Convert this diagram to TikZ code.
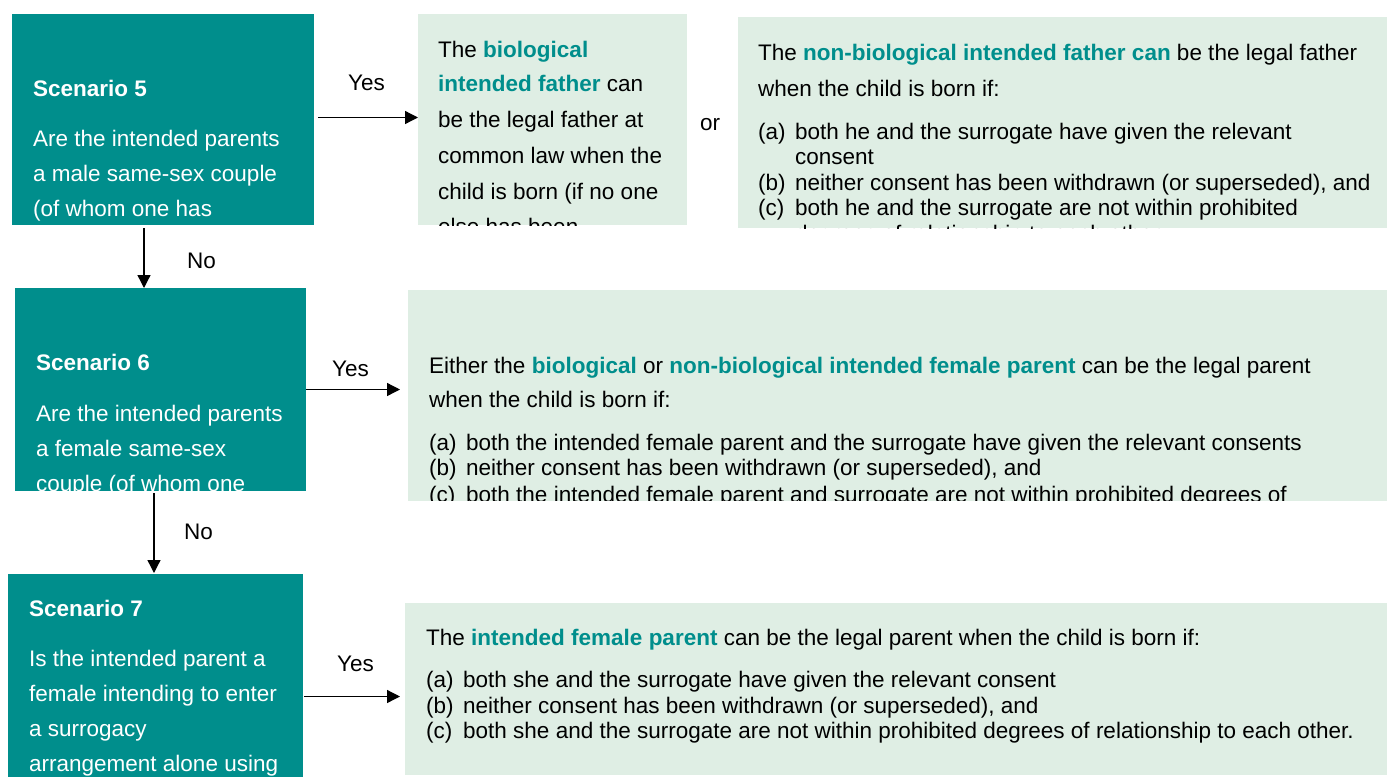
\documentclass[tikz,border=0pt]{standalone}
\usepackage{fontspec}
\setmainfont{Liberation Sans}
\usetikzlibrary{arrows.meta,calc}
\definecolor{tealbg}{RGB}{0,142,140}
\definecolor{paleg}{RGB}{223,238,228}
\definecolor{tealtx}{RGB}{0,142,140}
\newcommand{\hl}[1]{\textcolor{tealtx}{\bfseries #1}}
\newcommand{\itm}[1]{\makebox[37pt][l]{#1}}
\begin{document}
\begin{tikzpicture}[x=1pt,y=-1pt,
  qbox/.style={fill=tealbg, draw=none, anchor=north west, inner sep=0pt, outer sep=0pt},
  abox/.style={fill=paleg, draw=none, anchor=north west, inner sep=0pt, outer sep=0pt},
  qtxt/.style={anchor=base west, inner sep=0pt, text=white, font=\fontsize{22.5}{26}\selectfont},
  qhead/.style={anchor=base west, inner sep=0pt, text=white, font=\fontsize{22.5}{26}\selectfont\bfseries},
  atxt/.style={anchor=base west, inner sep=0pt, text=black, font=\fontsize{22.5}{26}\selectfont},
  lbl/.style={anchor=base west, inner sep=0pt, text=black, font=\fontsize{22.5}{26}\selectfont},
  arr/.style={-{Triangle[length=13pt,width=13pt]}, line width=1.3pt, draw=black}]

\useasboundingbox (0,0) rectangle (1387,777);

% ---------- Scenario 5 ----------
\begin{scope}
\node[qbox, minimum width=302pt, minimum height=211pt] (s5) at (12,14) {};
\clip (s5.south west) rectangle (s5.north east);
\node[qhead] (s5h) at (33,96.7) {Scenario 5};
\node[qtxt] (s5l1) at (33,146.7) {Are the intended parents};
\node[qtxt] (s5l2) at (33,181.7) {a male same-sex couple};
\node[qtxt] (s5l3) at (33,216.7) {(of whom one has};
\end{scope}

% ---------- biological father ----------
\begin{scope}
\node[abox, minimum width=269pt, minimum height=211pt] (bio) at (418,14) {};
\clip (bio.south west) rectangle (bio.north east);
\node[atxt] (bio1) at (438,57.3) {The \hl{biological}};
\node[atxt] (bio2) at (438,91.7) {\hl{intended father} can};
\node[atxt] (bio3) at (438,127.3) {be the legal father at};
\node[atxt] (bio4) at (438,163.3) {common law when the};
\node[atxt] (bio5) at (438,199) {child is born (if no one};
\node[atxt] (bio6) at (438,234.5) {else has been};
\end{scope}

\node[lbl] (or) at (700,130) {or};

% ---------- non-biological father ----------
\begin{scope}
\node[abox, minimum width=649pt, minimum height=211pt] (nonbio) at (738,17) {};
\clip (nonbio.south west) rectangle (nonbio.north east);
\node[atxt] (nb1) at (758,60.7) {The \hl{non-biological intended father can} be the legal father};
\node[atxt] (nb2) at (758,96.7) {when the child is born if:};
\node[atxt] (nb3) at (758,139.3) {\itm{(a)}both he and the surrogate have given the relevant};
\node[atxt] (nb4) at (758,164.3) {\itm{}consent};
\node[atxt] (nb5) at (758,190.3) {\itm{(b)}neither consent has been withdrawn (or superseded), and};
\node[atxt] (nb6) at (758,215.5) {\itm{(c)}both he and the surrogate are not within prohibited};
\node[atxt] (nb7) at (758,241) {\itm{}degrees of relationship to each other.};
\end{scope}

% ---------- Scenario 6 ----------
\begin{scope}
\node[qbox, minimum width=291pt, minimum height=203pt] (s6) at (15,288) {};
\clip (s6.south west) rectangle (s6.north east);
\node[qhead] (s6h) at (36,370.7) {Scenario 6};
\node[qtxt] (s6l1) at (36,421.7) {Are the intended parents};
\node[qtxt] (s6l2) at (36,456.7) {a female same-sex};
\node[qtxt] (s6l3) at (36,491.7) {couple (of whom one};
\end{scope}

% ---------- Either box ----------
\begin{scope}
\node[abox, minimum width=979pt, minimum height=210.7pt] (either) at (408,290) {};
\clip (either.south west) rectangle (either.north east);
\node[atxt] (ei1) at (429,373) {Either the \hl{biological} or \hl{non-biological intended female parent} can be the legal parent};
\node[atxt] (ei2) at (429,407) {when the child is born if:};
\node[atxt] (ei3) at (429,450) {\itm{(a)}both the intended female parent and the surrogate have given the relevant consents};
\node[atxt] (ei4) at (429,475.5) {\itm{(b)}neither consent has been withdrawn (or superseded), and};
\node[atxt] (ei5) at (429,502.5) {\itm{(c)}both the intended female parent and surrogate are not within prohibited degrees of};
\end{scope}

% ---------- Scenario 7 ----------
\begin{scope}
\node[qbox, minimum width=295pt, minimum height=203pt] (s7) at (8,574) {};
\clip (s7.south west) rectangle (s7.north east);
\node[qhead] (s7h) at (29,616) {Scenario 7};
\node[qtxt] (s7l1) at (29,666.7) {Is the intended parent a};
\node[qtxt] (s7l2) at (29,701.7) {female intending to enter};
\node[qtxt] (s7l3) at (29,736.7) {a surrogacy};
\node[qtxt] (s7l4) at (29,771.7) {arrangement alone using};
\end{scope}

% ---------- female box ----------
\begin{scope}
\node[abox, minimum width=982pt, minimum height=172pt] (fem) at (405,603) {};
\clip (fem.south west) rectangle (fem.north east);
\node[atxt] (fe1) at (426,645) {The \hl{intended female parent} can be the legal parent when the child is born if:};
\node[atxt] (fe2) at (426,687) {\itm{(a)}both she and the surrogate have given the relevant consent};
\node[atxt] (fe3) at (426,713) {\itm{(b)}neither consent has been withdrawn (or superseded), and};
\node[atxt] (fe4) at (426,738.5) {\itm{(c)}both she and the surrogate are not within prohibited degrees of relationship to each other.};
\end{scope}

% ---------- connectors ----------
\draw[arr, shorten <=4pt] ([yshift=2pt]s5.east) -- ([yshift=2pt]s5.east -| bio.west);
\draw[arr, shorten <=3pt] ([xshift=132pt]s5.south west) -- ([xshift=129pt]s6.north west);
\draw[arr, shorten >=8pt] (s6.east) -- (s6.east -| either.west);
\draw[arr, shorten <=2pt, shorten >=1pt] ([xshift=139pt]s6.south west) -- ([xshift=146pt]s7.north west);
\draw[arr, shorten <=1pt, shorten >=5pt] ([yshift=-21pt]s7.east) -- ([yshift=-21pt]s7.east -| fem.west);

% ---------- labels ----------
\node[lbl] (yes1) at (348,90) {Yes};
\node[lbl] (no1) at (187,268) {No};
\node[lbl] (yes2) at (332,376.7) {Yes};
\node[lbl] (no2) at (184,539) {No};
\node[lbl] (yes3) at (337,671.7) {Yes};
\end{tikzpicture}
\end{document}
